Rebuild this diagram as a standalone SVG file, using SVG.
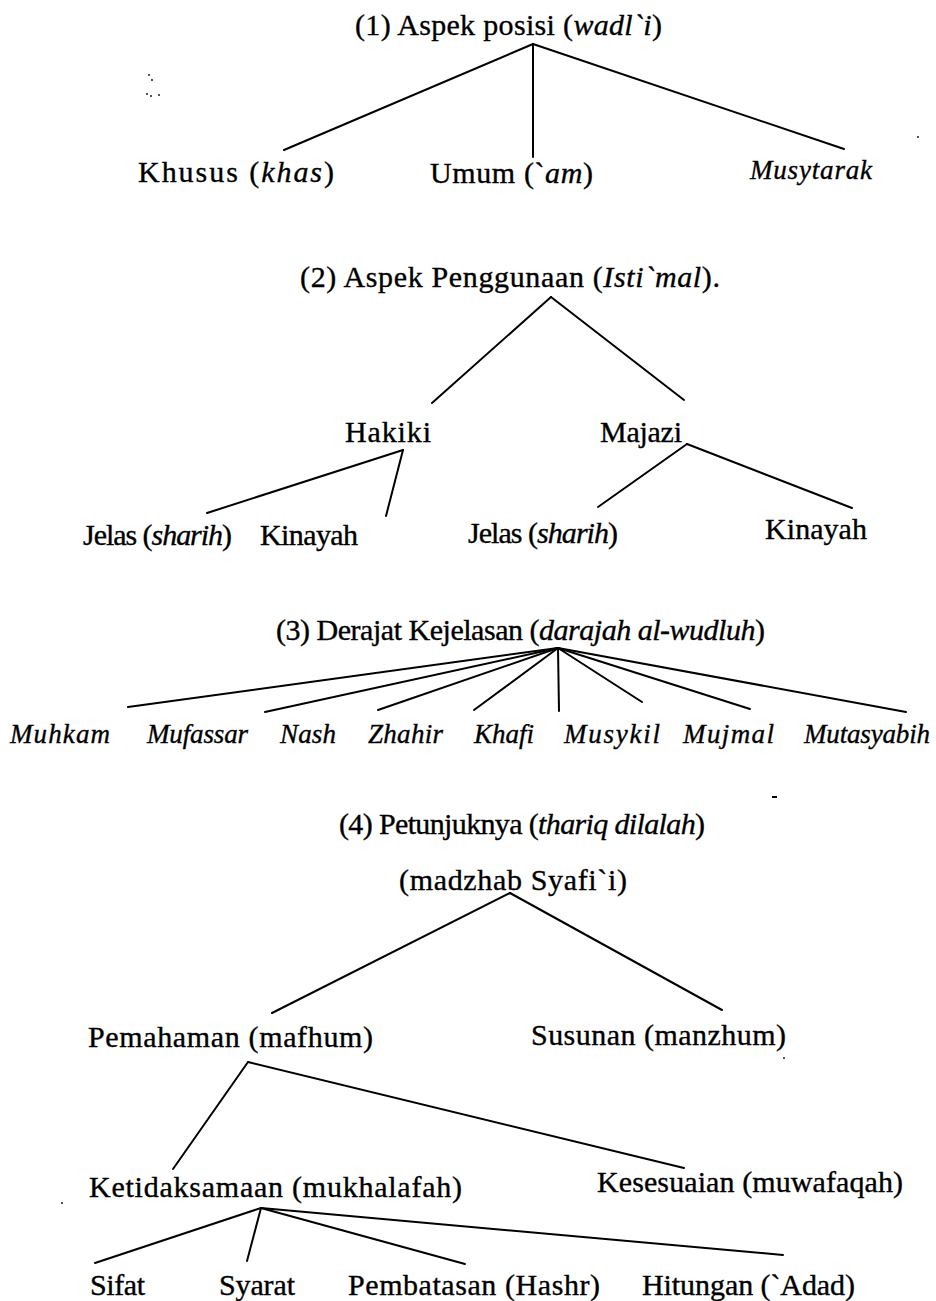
<svg xmlns="http://www.w3.org/2000/svg" width="936" height="1301" viewBox="0 0 936 1301">
<style>
.t { font-family: "Liberation Serif", "Times New Roman", serif; font-size: 30px; fill: #000; stroke: #000; stroke-width: 0.35; }
.i { font-style: italic; }
.li { font-size: 27px; }
.c line { stroke: #000; stroke-width: 2; stroke-linecap: round; }
.s { fill: #000; }
</style>
<rect width="936" height="1301" fill="#fff"/>
<g id="connectors" class="c">
  <line x1="533" y1="44" x2="284" y2="150"/>
  <line x1="533" y1="44" x2="533" y2="157"/>
  <line x1="533" y1="44" x2="844" y2="149"/>
  <line x1="551" y1="297" x2="432" y2="403"/>
  <line x1="551" y1="297" x2="684" y2="400"/>
  <line x1="403" y1="450" x2="207" y2="513"/>
  <line x1="403" y1="450" x2="386" y2="516"/>
  <line x1="687" y1="444" x2="598" y2="507"/>
  <line x1="687" y1="444" x2="852" y2="508"/>
  <line x1="558" y1="648" x2="128" y2="707"/>
  <line x1="558" y1="648" x2="265" y2="712"/>
  <line x1="558" y1="648" x2="378" y2="710"/>
  <line x1="558" y1="648" x2="474" y2="710"/>
  <line x1="558" y1="648" x2="559" y2="711"/>
  <line x1="558" y1="648" x2="642" y2="702"/>
  <line x1="558" y1="648" x2="750" y2="709"/>
  <line x1="558" y1="648" x2="906" y2="712"/>
  <line x1="510" y1="893" x2="272" y2="1013"/>
  <line x1="510" y1="893" x2="722" y2="1010"/>
  <line x1="248" y1="1062" x2="173" y2="1169"/>
  <line x1="248" y1="1062" x2="684" y2="1168"/>
  <line x1="261" y1="1208" x2="95" y2="1263"/>
  <line x1="261" y1="1208" x2="247" y2="1261"/>
  <line x1="261" y1="1208" x2="465" y2="1264"/>
  <line x1="261" y1="1208" x2="783" y2="1255"/>
</g>
<g id="n1"><text class="t" x="355" y="35" textLength="307">(1) Aspek posisi (<tspan class="i">wadl`i</tspan>)</text></g>
<g id="n1a"><text class="t" x="138" y="182" textLength="196">Khusus (<tspan class="i">khas</tspan>)</text></g>
<g id="n1b"><text class="t" x="430" y="183" textLength="163">Umum (`<tspan class="i">am</tspan>)</text></g>
<g id="n1c"><text class="t i li" x="750" y="179" textLength="122">Musytarak</text></g>

<g id="n2"><text class="t" x="300" y="287" textLength="420">(2) Aspek Penggunaan (<tspan class="i">Isti`mal</tspan>).</text></g>
<g id="n2a"><text class="t" x="345" y="442" textLength="86">Hakiki</text></g>
<g id="n2b"><text class="t" x="600" y="442" textLength="82">Majazi</text></g>
<g id="n2a1"><text class="t" x="83" y="545" textLength="149">Jelas (<tspan class="i">sharih</tspan>)</text></g>
<g id="n2a2"><text class="t" x="260" y="545" textLength="98">Kinayah</text></g>
<g id="n2b1"><text class="t" x="468" y="543" textLength="150">Jelas (<tspan class="i">sharih</tspan>)</text></g>
<g id="n2b2"><text class="t" x="765" y="539" textLength="102">Kinayah</text></g>

<g id="n3"><text class="t" x="276" y="640" textLength="489">(3) Derajat Kejelasan (<tspan class="i">darajah al-wudluh</tspan>)</text></g>
<g id="n3a"><text class="t i li" x="10" y="743" textLength="100">Muhkam</text></g>
<g id="n3b"><text class="t i li" x="147" y="743" textLength="101">Mufassar</text></g>
<g id="n3c"><text class="t i li" x="280" y="743" textLength="56">Nash</text></g>
<g id="n3d"><text class="t i li" x="368" y="743" textLength="75">Zhahir</text></g>
<g id="n3e"><text class="t i li" x="474" y="743" textLength="60">Khafi</text></g>
<g id="n3f"><text class="t i li" x="564" y="743" textLength="96">Musykil</text></g>
<g id="n3g"><text class="t i li" x="683" y="743" textLength="91">Mujmal</text></g>
<g id="n3h"><text class="t i li" x="804" y="743" textLength="126">Mutasyabih</text></g>

<g id="n4"><text class="t" x="339" y="834" textLength="366">(4) Petunjuknya (<tspan class="i">thariq dilalah</tspan>)</text></g>
<g id="n4s"><text class="t" x="399" y="890" textLength="228">(madzhab Syafi`i)</text></g>
<g id="n4a"><text class="t" x="88" y="1047" textLength="285">Pemahaman (mafhum)</text></g>
<g id="n4b"><text class="t" x="531" y="1045" textLength="255">Susunan (manzhum)</text></g>
<g id="n4a1"><text class="t" x="89" y="1197" textLength="373">Ketidaksamaan (mukhalafah)</text></g>
<g id="n4a2"><text class="t" x="597" y="1192" textLength="306">Kesesuaian (muwafaqah)</text></g>
<g id="n4a1a"><text class="t" x="90" y="1295" textLength="55">Sifat</text></g>
<g id="n4a1b"><text class="t" x="219" y="1295" textLength="76">Syarat</text></g>
<g id="n4a1c"><text class="t" x="348" y="1295" textLength="252">Pembatasan (Hashr)</text></g>
<g id="n4a1d"><text class="t" x="642" y="1295" textLength="213">Hitungan (`Adad)</text></g>

<g id="specks" class="s">
  <circle cx="149" cy="75" r="0.9"/>
  <circle cx="152" cy="80" r="0.9"/>
  <circle cx="147" cy="94" r="0.9"/>
  <circle cx="151" cy="96" r="0.9"/>
  <circle cx="159" cy="95" r="0.9"/>
  <circle cx="918" cy="137" r="0.9"/>
  <circle cx="784" cy="1058" r="0.9"/>
  <circle cx="62" cy="1203" r="0.9"/>
  <rect x="772" y="796" width="5" height="2"/>
</g>
</svg>
